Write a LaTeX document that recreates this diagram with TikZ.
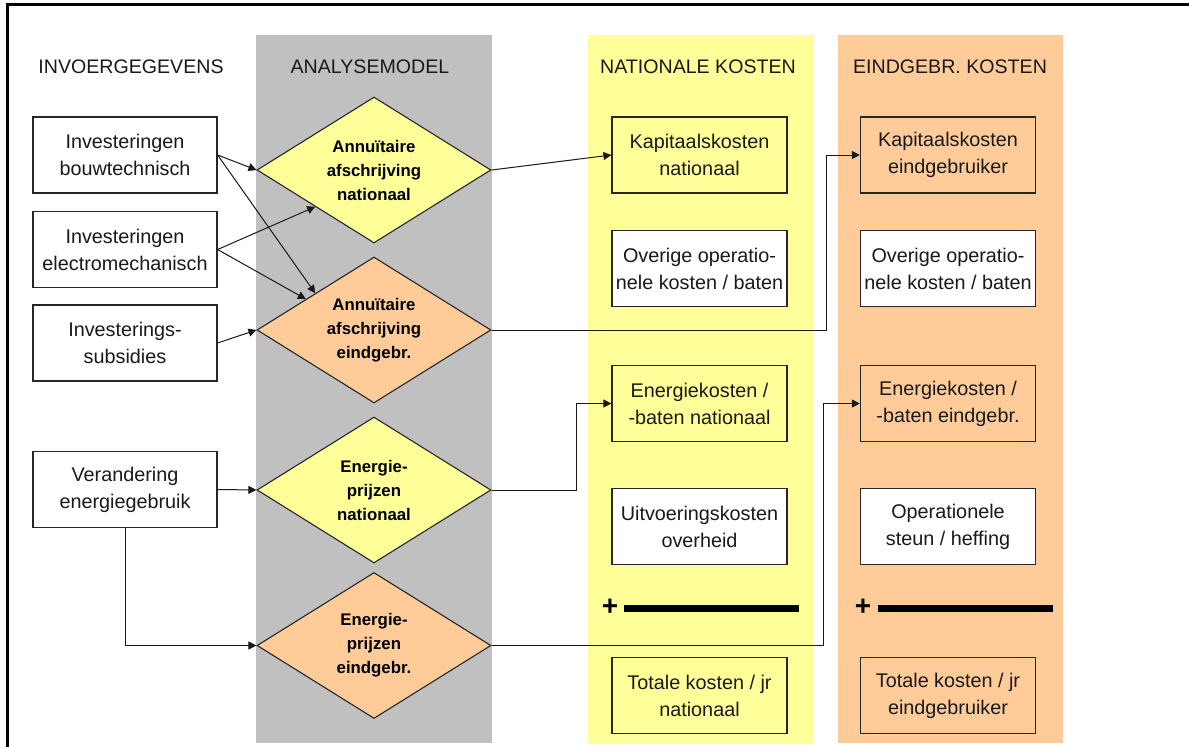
\documentclass[tikz,border=0pt]{standalone}
\usepackage{fontspec}
\setmainfont{Liberation Sans}
\usetikzlibrary{arrows.meta,shapes.geometric,calc}
\definecolor{colgray}{HTML}{C0C0C0}
\definecolor{colyellow}{HTML}{FFFF99}
\definecolor{colorange}{HTML}{FFCC99}
\tikzset{
  header/.style={font=\fontsize{19.6}{24}\selectfont, anchor=center, text=black!90},
  inbox/.style={draw=black!85, line width=1.2pt, fill=white, minimum width=184pt,
    minimum height=76pt, inner sep=0pt, align=center,
    font=\fontsize{19.8}{27}\selectfont, text=black!90},
  costbox/.style={draw=black!85, line width=1.2pt, minimum width=175pt,
    minimum height=76pt, inner sep=0pt, align=center,
    font=\fontsize{19.8}{27}\selectfont, text=black!90},
  model/.style={draw=black!85, line width=1.1pt, shape=diamond, aspect=1.6,
    minimum width=234pt, minimum height=146pt, inner sep=0pt, align=center,
    font=\fontsize{16.8}{24}\selectfont\bfseries, text=black},
  arr/.style={draw=black!90, line width=1pt, -{Triangle[length=8pt, width=8pt]}},
  sumline/.style={line width=7pt, black},
  plussign/.style={font=\fontsize{28}{28}\selectfont\bfseries, inner sep=0pt}
}
\begin{document}
\begin{tikzpicture}[x=1pt, y=-1pt]
\useasboundingbox (0,0) rectangle (1189,747);
\fill[white] (0,0) rectangle (1189,747);
% frame edges
\draw[line width=3pt, black] (7,747) -- (7,4) -- (1189,4);

% column backgrounds
\fill[colgray]   (256,35) rectangle (492,743);
\fill[colyellow] (588,35) rectangle (813,743);
\fill[colorange] (838,35) rectangle (1063,743);

% column headings
\node[header] (h1) at (131,67) {INVOERGEGEVENS};
\node[header] (h2) at (370,67) {ANALYSEMODEL};
\node[header] (h3) at (698,67) {NATIONALE KOSTEN};
\node[header] (h4) at (950,67) {EINDGEBR. KOSTEN};

% input data
\node[inbox] (in1) at (125,155)   {Investeringen\\bouwtechnisch};
\node[inbox] (in2) at (125,249.5) {Investeringen\\electromechanisch};
\node[inbox] (in3) at (125,343)   {Investerings-\\subsidies};
\node[inbox] (in4) at (125,489.5) {Verandering\\energiegebruik};

% analysis model
\node[model, fill=colyellow] (d1) at (374,170)   {Annuïtaire\\afschrijving\\nationaal};
\node[model, fill=colorange] (d2) at (374,330)   {Annuïtaire\\afschrijving\\eindgebr.};
\node[model, fill=colyellow] (d3) at (374,490)   {Energie-\\prijzen\\nationaal};
\node[model, fill=colorange] (d4) at (374,645.5) {Energie-\\prijzen\\eindgebr.};

% national costs
\node[costbox, fill=colyellow] (n1) at (699.5,155)   {Kapitaalskosten\\nationaal};
\node[costbox, fill=white]     (n2) at (699.5,268.5) {Overige operatio-\\nele kosten / baten};
\node[costbox, fill=colyellow] (n3) at (699.5,403.5) {Energiekosten /\\-baten nationaal};
\node[costbox, fill=white]     (n4) at (699.5,526.5) {Uitvoeringskosten\\overheid};
\node[costbox, fill=colyellow] (n5) at (699.5,695.5) {Totale kosten / jr\\nationaal};

% end-user costs
\node[costbox, fill=colorange] (e1) at (948,155)   {Kapitaalskosten\\eindgebruiker};
\node[costbox, fill=white]     (e2) at (948,268.5) {Overige operatio-\\nele kosten / baten};
\node[costbox, fill=colorange] (e3) at (948,403.5) {Energiekosten /\\-baten eindgebr.};
\node[costbox, fill=white]     (e4) at (948,526.5) {Operationele\\steun / heffing};
\node[costbox, fill=colorange] (e5) at (948,695.5) {Totale kosten / jr\\eindgebruiker};

% summation bars
\node[plussign] (pn) at (610,607) {+};
\draw[sumline] (624,608) -- (799,608);
\node[plussign] (pe) at (863,607) {+};
\draw[sumline] (878,608) -- (1053,608);

% inputs to the model
\draw[arr] (in1.east) -- (d1.west);
\draw[arr] (in1.east) -- (d2.north west);
\draw[arr] (in2.east) -- (d1.south west);
\draw[arr] (in2.east) -- ($(d2.west)!0.42!(d2.north)$);
\draw[arr] (in3.east) -- (d2.west);
\draw[arr] (in4.east) -- (d3.west);
\draw[arr] (in4.south) |- (d4.west);

% model to costs
\draw[arr] (d1.east) -- (n1.west);
\draw[arr] (d2.east) -- ++(335,0) |- (e1.west);
\draw[arr] (d3.east) -- ++(85,0) |- (n3.west);
\draw[arr] (d4.east) -- ++(332,0) |- (e3.west);
\end{tikzpicture}
\end{document}
